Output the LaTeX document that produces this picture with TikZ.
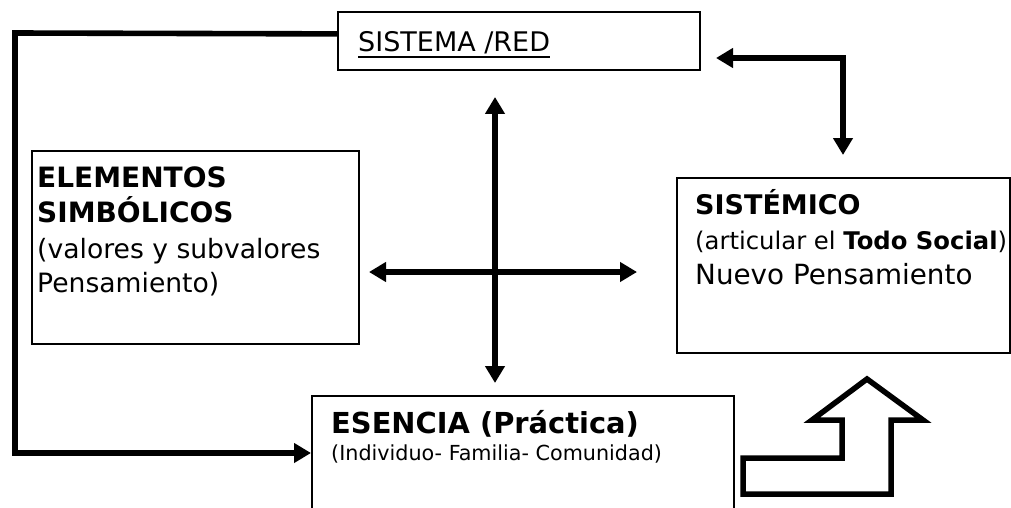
\documentclass[tikz,border=0pt]{standalone}
\usepackage{fontspec}
\setmainfont{DejaVu Sans}
\usetikzlibrary{arrows.meta}
\tikzset{
  box/.style={draw, line width=1.8pt, inner sep=0pt, anchor=north west},
  txt/.style={inner sep=0pt, anchor=base west},
  conn/.style={line width=5.6pt},
  tip/.style={-{Triangle[length=17pt,width=19pt]}},
  tips/.style={{Triangle[length=17pt,width=19pt]}-{Triangle[length=17pt,width=19pt]}},
  blockarrow/.style={draw, line width=5.5pt, line join=miter}
}
\newcommand{\fs}[1]{\fontsize{#1pt}{#1pt}\selectfont}
\begin{document}
\begin{tikzpicture}[x=1pt,y=-1pt]
\clip (0,0) rectangle (1011,508);
\fill[white] (0,0) rectangle (1011,508);
% boxes
\node[box, minimum width=362pt, minimum height=58pt] (sis) at (337,11) {};
\node[box, minimum width=327pt, minimum height=193pt] (ele) at (31,150) {};
\node[box, minimum width=333pt, minimum height=175pt] (sit) at (676,177) {};
\node[box, minimum width=422pt, minimum height=130pt] (ess) at (311,395) {};
% texts
\node[txt, font=\fs{27}] (tsis) at (358,52) {SISTEMA /RED};
\draw[line width=1.5pt] ([yshift=-5pt]tsis.base west) -- ([yshift=-5pt]tsis.base east);
\node[txt, font=\fs{28}\bfseries] (t1) at (37,187) {ELEMENTOS};
\node[txt, font=\fs{28}\bfseries] (t2) at (37,222) {SIMBÓLICOS};
\node[txt, font=\fs{26.6}] (t3) at (37,258) {(valores y subvalores};
\node[txt, font=\fs{26.6}] (t4) at (37,292) {Pensamiento)};
\node[txt, font=\fs{27}\bfseries] (t5) at (695,214) {SISTÉMICO};
\node[txt, font=\fs{24.3}] (t6) at (695,249) {(articular el \textbf{Todo Social})};
\node[txt, font=\fs{27.8}] (t7) at (695,284) {Nuevo Pensamiento};
\node[txt, font=\fs{28.9}\bfseries] (t8) at (331,433) {ESENCIA (Práctica)};
\node[txt, font=\fs{20.7}] (t9) at (331,460) {(Individuo- Familia- Comunidad)};
% connectors
\draw[conn, tip] ([yshift=7pt]sis.west) -- (15,33) -- (15,453) -- (ess.west |- 0,453);
\coordinate (vt) at (495,97);
\coordinate (vb) at (495,383);
\draw[conn, tips] (vt) -- (vb);
\coordinate (hl) at (369,272);
\coordinate (hr) at (637,272);
\draw[conn, tips] (hl) -- (hr);
\coordinate (el) at (716,58);
\coordinate (ed) at (843,155);
\draw[conn, tips, line join=miter] (el) -| (ed);
% bent block arrow
\draw[blockarrow] (743,494) -- (743,458) -- (842,458) -- (842,420) -- (812,420)
  -- (867,379) -- (923,420) -- (891,420) -- (891,494) -- cycle;
\end{tikzpicture}
\end{document}
